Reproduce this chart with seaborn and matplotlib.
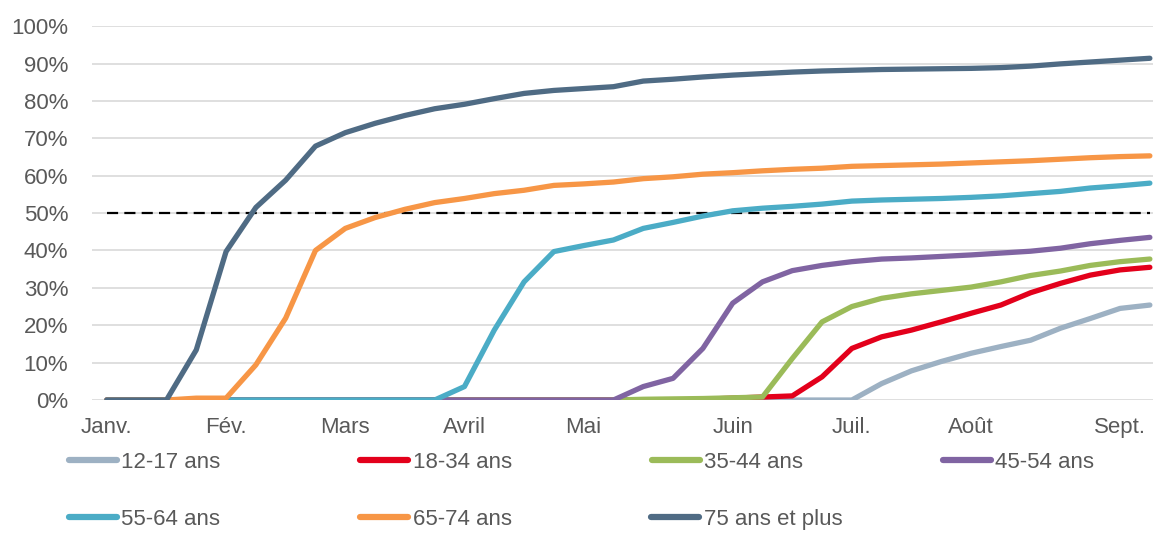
import numpy as np
import pandas as pd
import matplotlib
matplotlib.use("Agg")
import matplotlib.pyplot as plt
from matplotlib.lines import Line2D
import seaborn as sns

# weekly share of vaccinated people (%), by age group
weeks = list(range(36))
month_labels = ["Janv.", "Fév.", "Mars", "Avril", "Mai", "Juin", "Juil.", "Août", "Sept."]
month_weeks = [0, 4, 8, 12, 16, 21, 25, 29, 34]

groups = ["12-17 ans", "18-34 ans", "35-44 ans", "45-54 ans",
          "55-64 ans", "65-74 ans", "75 ans et plus"]

age_12_17 = [0] * 26 + [4.4, 7.8, 10.3, 12.5, 14.3, 16.0, 19.2, 21.8, 24.5, 25.4]
age_18_34 = [0] * 20 + [0.2, 0.5, 0.8, 1.1, 6.2, 13.8, 16.9, 18.7, 20.9, 23.2,
                        25.4, 28.7, 31.2, 33.4, 34.8, 35.5]
age_35_44 = [0] * 18 + [0.2, 0.3, 0.4, 0.6, 0.8, 11.1, 20.9, 25.0, 27.2, 28.4,
                        29.3, 30.2, 31.6, 33.3, 34.5, 36.0, 37.0, 37.7]
age_45_54 = [0] * 18 + [3.6, 5.8, 13.8, 25.9, 31.6, 34.6, 36.0, 37.0, 37.7, 38.0,
                        38.4, 38.8, 39.3, 39.8, 40.6, 41.8, 42.7, 43.5]
age_55_64 = [0] * 12 + [3.6, 18.7, 31.6, 39.7, 41.3, 42.8, 45.9, 47.5, 49.2, 50.6,
                        51.3, 51.8, 52.4, 53.2, 53.5, 53.7, 53.9, 54.2, 54.6, 55.2,
                        55.8, 56.7, 57.3, 58.0]
age_65_74 = [0, 0, 0, 0.5, 0.5, 9.4, 21.9, 40.0, 45.9, 48.8, 51.0, 52.8, 53.9, 55.2,
             56.1, 57.4, 57.8, 58.3, 59.2, 59.7, 60.4, 60.8, 61.3, 61.7, 62.0, 62.5,
             62.7, 62.9, 63.1, 63.4, 63.7, 64.0, 64.4, 64.8, 65.1, 65.3]
age_75_plus = [0, 0, 0, 13.4, 39.7, 51.5, 58.8, 67.9, 71.5, 74.0, 76.1, 77.9, 79.1,
               80.6, 82.0, 82.8, 83.3, 83.8, 85.3, 85.8, 86.4, 86.9, 87.3, 87.7,
               88.0, 88.2, 88.4, 88.5, 88.6, 88.7, 88.9, 89.3, 89.9, 90.4, 90.9, 91.4]
threshold = [50] * 36

colors = ["#9DB1C3", "#E3001B", "#9BBB59", "#8064A2", "#4BACC6", "#F79646", "#4F6B84"]

values = [age_12_17, age_18_34, age_35_44, age_45_54, age_55_64, age_65_74, age_75_plus]
df = pd.DataFrame({
    "week": np.tile(weeks, len(groups)),
    "pct": np.concatenate(values),
    "group": np.repeat(groups, len(weeks)),
})

sns.set_style("white")
plt.rcParams["font.family"] = ["Liberation Sans", "DejaVu Sans"]

fig = plt.figure(figsize=(11.54, 5.33), dpi=100)
ax = fig.add_axes([0.0797, 0.2495, 0.9193, 0.7015])

ax.plot(weeks, threshold, color="black", lw=1.6, ls=(0, (5, 2.8)), zorder=1)
sns.lineplot(data=df, x="week", y="pct", hue="group", hue_order=groups,
             palette=colors, lw=3.8, legend=False, ax=ax, zorder=2)
for line in ax.get_lines():
    line.set_solid_capstyle("round")
    line.set_solid_joinstyle("round")

ax.set_xlim(-0.5, 35.1)
ax.set_ylim(0, 100)
ax.set_yticks(range(0, 101, 10))
ax.set_yticklabels([f"{v}%" for v in range(0, 101, 10)])
ax.set_xticks(month_weeks)
ax.set_xticklabels(month_labels)
ax.set_xlabel("")
ax.set_ylabel("")
ax.grid(axis="y", color="#D9D9D9", lw=1.2, zorder=0)
ax.set_axisbelow(True)
for s in ax.spines.values():
    s.set_visible(False)
ax.tick_params(axis="both", length=0, labelsize=16, labelcolor="#595959")
ax.tick_params(axis="y", pad=17)
ax.tick_params(axis="x", pad=12)

handles = [Line2D([0], [0], color=c, lw=4.5, solid_capstyle="round") for c in colors]
leg_kw = dict(frameon=False, fontsize=16, handlelength=2.16, handletextpad=0.2,
              columnspacing=6.29, borderpad=0, borderaxespad=0, loc="center left",
              labelcolor="#595959")
leg1 = fig.legend(handles[:4], groups[:4], ncol=4, bbox_to_anchor=(0.0598, 0.133), **leg_kw)
leg2 = fig.legend(handles[4:], groups[4:], ncol=3, bbox_to_anchor=(0.0598, 0.026), **leg_kw)

fig.savefig("out.png", dpi=100)
